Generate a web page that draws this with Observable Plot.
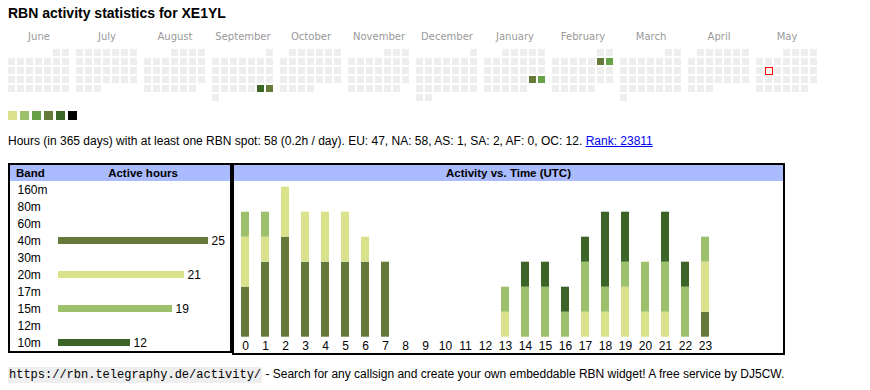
<!DOCTYPE html>
<html><head><meta charset="utf-8">
<script src="https://cdn.jsdelivr.net/npm/d3@7"></script>
<script src="https://cdn.jsdelivr.net/npm/@observablehq/plot@0.6"></script>
<style>
body{margin:0;background:#fff;font-family:"Liberation Sans",Arial,sans-serif;color:#000;}
#root{position:relative;width:870px;height:390px;overflow:hidden;}
.abs{position:absolute;}
#title{left:8px;top:5px;font-weight:bold;font-size:14px;white-space:nowrap;}
#summary{left:8px;top:134px;font-size:12px;white-space:nowrap;}
#summary a{color:#0000ee;text-decoration:underline;}
.box{border:2px solid #000;box-sizing:border-box;}
.hdr{position:absolute;left:0;top:0;right:0;height:16px;background:#aabbff;font-weight:bold;font-size:11.5px;line-height:16px;}
#footer{left:8px;top:367px;font-size:12px;white-space:nowrap;}
#footer code{font-family:"Liberation Mono","Courier New",monospace;font-size:12px;background:#eeeeee;padding:1px 1px;}
svg{overflow:visible;}
</style></head>
<body><div id="root">
<div id="title" class="abs">RBN activity statistics for XE1YL</div>
<div id="cal" class="abs" style="left:0;top:25px;"></div>
<div id="legend" class="abs" style="left:0;top:111px;"></div>
<div id="summary" class="abs">Hours (in 365 days) with at least one RBN spot: 58 (0.2h / day). EU: 47, NA: 58, AS: 1, SA: 2, AF: 0, OC: 12. <a href="#">Rank: 23811</a></div>
<div id="bandbox" class="abs box" style="left:8px;top:163px;width:224px;height:190px;">
  <div class="hdr"><span style="position:absolute;left:6px;">Band</span><span style="position:absolute;left:46px;right:0;text-align:center;">Active hours</span></div>
  <div id="bandplot" style="position:absolute;left:0;top:16px;"></div>
</div>
<div id="timebox" class="abs box" style="left:232px;top:163px;width:553px;height:192px;">
  <div class="hdr" style="text-align:center;">Activity vs. Time (UTC)</div>
  <div id="timeplot" style="position:absolute;left:0;top:16px;"></div>
</div>
<div id="footer" class="abs"><code>https://rbn.telegraphy.de/activity/</code> - Search for any callsign and create your own embeddable RBN widget! A free service by DJ5CW.</div>
</div>
<script>
// ---- data ----
const monthNames = ["June","July","August","September","October","November","December","January","February","March","April","May"];
const periodStart = "2024-06-01";
const periodEnd = "2025-06-01";
const activeDays = ["2024-09-28","2024-09-29","2025-01-25","2025-01-26","2025-02-08","2025-02-09"];
const activeLevels = [5,4,4,3,4,3];
const today = "2025-05-13";
const legendLevels = [1,2,3,4,5,6];
const levelColors = ["#d9e28a","#9dc06b","#68a247","#657b3a","#3c6626","#000000"];
const emptyColor = "#eeeeee";

const bands = ["160m","80m","60m","40m","30m","20m","17m","15m","12m","10m"];
const bandHours = [0,0,0,25,0,21,0,19,0,12];
const stackBands = ["40m","20m","15m","10m"];
const stackColors = ["#657a3a","#d9e28b","#9dc06b","#3b6426"];

const utcHours = [0,1,2,3,4,5,6,7,8,9,10,11,12,13,14,15,16,17,18,19,20,21,22,23];
const hours40 = [2,3,4,3,3,3,3,3,0,0,0,0,0,0,0,0,0,0,0,0,0,0,0,1];
const hours20 = [2,1,2,2,2,2,1,0,0,0,0,0,0,1,0,0,0,1,1,2,1,1,0,2];
const hours15 = [1,1,0,0,0,0,0,0,0,0,0,0,0,1,2,2,1,2,1,1,2,2,2,1];
const hours10 = [0,0,0,0,0,0,0,0,0,0,0,0,0,0,1,1,1,1,3,2,0,2,1,0];

// ---- calendar ----
const fmtMonth = d3.utcFormat("%Y-%m");
const fmtDay = d3.utcFormat("%Y-%m-%d");
const days = d3.utcDays(new Date(periodStart), new Date(periodEnd));
const cal = days.map(d => {
  const first = d3.utcMonth(d);
  const dowFirst = (first.getUTCDay() + 6) % 7;
  const dow = (d.getUTCDay() + 6) % 7;
  const row = Math.floor((d.getUTCDate() - 1 + dowFirst) / 7);
  const iso = fmtDay(d);
  const i = activeDays.indexOf(iso);
  return {month: fmtMonth(d), dow, row, level: i >= 0 ? activeLevels[i] : 0, today: iso === today};
});
const monthKeys = Array.from(new Set(cal.map(d => d.month)));

const calPlot = Plot.plot({
  width: 870, height: 77,
  marginLeft: 8, marginRight: 53, marginTop: 24, marginBottom: 1,
  style: {fontFamily: "DejaVu Sans, Verdana, sans-serif", fontSize: "10px", color: "#999", background: "transparent"},
  fx: {domain: monthKeys, paddingInner: 7/68, paddingOuter: 0, align: 0, axis: "top", label: null,
       tickSize: 0, tickPadding: 10, tickFormat: k => monthNames[monthKeys.indexOf(k)]},
  x: {type: "band", domain: [0,1,2,3,4,5,6], paddingInner: 2/9, paddingOuter: 0, align: 0, axis: null},
  y: {type: "band", domain: [0,1,2,3,4,5], paddingInner: 2/9, paddingOuter: 0, align: 0, axis: null},
  color: {type: "identity"},
  marks: [
    Plot.cell(cal, {fx: "month", x: "dow", y: "row", inset: 0,
      fill: d => d.level ? levelColors[d.level - 1] : emptyColor}),
    Plot.cell(cal.filter(d => d.today), {fx: "month", x: "dow", y: "row",
      insetLeft: 0.5, insetTop: 0.5, insetRight: -0.5, insetBottom: -0.5,
      fill: "#f4f4f4", stroke: "#ff0000", strokeWidth: 1})
  ]
});
document.getElementById("cal").appendChild(calPlot);

const legendPlot = Plot.plot({
  width: 80, height: 9, marginLeft: 8, marginRight: 3, marginTop: 0, marginBottom: 0,
  style: {background: "transparent"},
  x: {type: "band", domain: legendLevels, paddingInner: 0.25, paddingOuter: 0, align: 0, axis: null},
  color: {type: "identity"},
  marks: [Plot.cell(legendLevels, {x: d => d, fill: d => levelColors[d - 1], inset: 0})]
});
document.getElementById("legend").appendChild(legendPlot);

// ---- band table ----
const bandData = bands.map((b, i) => ({band: b, hours: bandHours[i],
  color: stackBands.includes(b) ? stackColors[stackBands.indexOf(b)] : "none"}));
const bandPlot = Plot.plot({
  width: 220, height: 170, marginLeft: 48, marginRight: 22, marginTop: 0, marginBottom: 0,
  style: {fontFamily: "Liberation Sans, Arial, sans-serif", fontSize: "12px", color: "#000", background: "transparent"},
  x: {domain: [0, 25], axis: null},
  y: {type: "band", domain: bands, padding: 0, axis: null},
  color: {type: "identity"},
  marks: [
    Plot.barX(bandData.filter(d => d.hours > 0), {x: "hours", y: "band", fill: "color", insetTop: 5, insetBottom: 5}),
    Plot.text(bandData, {y: "band", text: "band", frameAnchor: "left", textAnchor: "start", dx: -41, fill: "#000"}),
    Plot.text(bandData.filter(d => d.hours > 0), {x: "hours", y: "band", text: d => String(d.hours), textAnchor: "start", dx: 3, fill: "#000"})
  ]
});
document.getElementById("bandplot").appendChild(bandPlot);

// ---- activity vs time ----
const series = [hours40, hours20, hours15, hours10];
const timeData = [];
stackBands.forEach((b, j) => utcHours.forEach((h, i) => {
  if (series[j][i] > 0) timeData.push({hour: h, band: b, value: series[j][i], color: stackColors[j]});
}));
const timePlot = Plot.plot({
  width: 549, height: 172, marginLeft: 7, marginRight: 74, marginTop: 5.7, marginBottom: 16.3,
  style: {fontFamily: "Liberation Sans, Arial, sans-serif", fontSize: "12px", color: "#000", background: "transparent"},
  x: {type: "band", domain: utcHours, paddingInner: 0.6, paddingOuter: 0, align: 0, label: null, tickSize: 0, tickPadding: 4},
  y: {domain: [0, 6], axis: null},
  color: {type: "identity"},
  marks: [
    Plot.barY(timeData, Plot.stackY({x: "hour", y: "value", z: "band", fill: "color",
      order: stackBands, inset: 0}))
  ]
});
document.getElementById("timeplot").appendChild(timePlot);
</script>
</body></html>
